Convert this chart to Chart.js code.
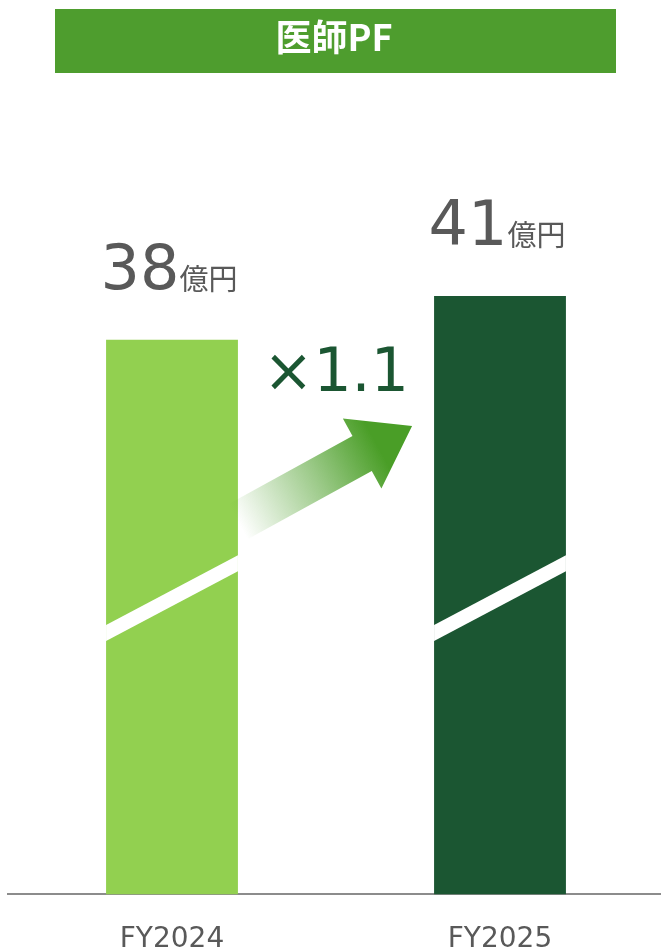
<!DOCTYPE html>
<html>
<head>
<meta charset="utf-8">
<script src="https://cdn.jsdelivr.net/npm/chart.js@4"></script>
<style>
  html, body { margin: 0; padding: 0; background: #fff; overflow: hidden; }
  #wrap { width: 661px; height: 949px; overflow: hidden; }
</style>
</head>
<body>
<div id="wrap"><canvas id="pf__canvas" width="664" height="978"></canvas></div>
<script>
const titleText = "医師PF";
const categories = ["FY2024", "FY2025"];
const revenue = [38, 41];
const unitLabel = "億円";
const growthLabel = "×1.1";
const barColors = ["#92D050", "#1B5632"];

const LATIN_FONT = "'DejaVu Sans', 'Noto Sans CJK JP', sans-serif";
const CJK_FONT = "'Noto Sans CJK JP', 'DejaVu Sans', sans-serif";

// banner, value labels, break stripes, arrow
const decorPlugin = {
  id: "decor",
  afterDatasetsDraw(chart) {
    const ctx = chart.ctx;
    const bars = chart.getDatasetMeta(0).data;

    // white break stripe across each bar
    bars.forEach((bar) => {
      const left = bar.x - bar.width / 2;
      const right = bar.x + bar.width / 2;
      const mid = chart.scales.y.getPixelForValue(20.3);
      const slope = 0.53;
      const half = (bar.width / 2) * slope;
      ctx.save();
      ctx.fillStyle = "#ffffff";
      ctx.beginPath();
      ctx.moveTo(left, mid + half - 8);
      ctx.lineTo(right, mid - half - 8);
      ctx.lineTo(right, mid - half + 8);
      ctx.lineTo(left, mid + half + 8);
      ctx.closePath();
      ctx.fill();
      ctx.restore();
    });

    // value labels
    bars.forEach((bar, i) => {
      const num = String(revenue[i]);
      ctx.save();
      ctx.fillStyle = "#595959";
      ctx.textBaseline = "alphabetic";
      ctx.font = "62px " + LATIN_FONT;
      const numW = ctx.measureText(num).width;
      ctx.font = "29px " + CJK_FONT;
      const unitW = ctx.measureText(unitLabel).width;
      const start = bar.x - (numW + unitW) / 2 - 3;
      const baseY = bar.y - 51;
      ctx.font = "62px " + LATIN_FONT;
      ctx.fillText(num, start, baseY);
      ctx.font = "29px " + CJK_FONT;
      ctx.fillText(unitLabel, start + numW, baseY + 1);
      ctx.restore();
    });

    // growth arrow
    const b1 = bars[0];
    const b2 = bars[1];
    const tail = { x: b1.x + b1.width / 2, y: b1.y + 182 };
    const tip = { x: b2.x - b2.width / 2 - 22, y: b2.y + 130 };
    const len = Math.hypot(tip.x - tail.x, tip.y - tail.y);
    const ang = Math.atan2(tip.y - tail.y, tip.x - tail.x);
    ctx.save();
    ctx.translate(tail.x, tail.y);
    ctx.rotate(ang);
    const grad = ctx.createLinearGradient(0, 0, len, 0);
    grad.addColorStop(0, "rgba(74,158,39,0)");
    grad.addColorStop(0.45, "rgba(74,158,39,0.55)");
    grad.addColorStop(0.8, "rgba(74,158,39,1)");
    grad.addColorStop(1, "rgba(74,158,39,1)");
    ctx.fillStyle = grad;
    const headLen = 57;
    const headHalf = 40;
    const shaftHalf = 20;
    ctx.beginPath();
    ctx.moveTo(0, -shaftHalf);
    ctx.lineTo(len - headLen, -shaftHalf);
    ctx.lineTo(len - headLen, -headHalf);
    ctx.lineTo(len, 0);
    ctx.lineTo(len - headLen, headHalf);
    ctx.lineTo(len - headLen, shaftHalf);
    ctx.lineTo(0, shaftHalf);
    ctx.closePath();
    ctx.fill();
    ctx.restore();

    // growth multiplier text
    ctx.save();
    ctx.fillStyle = "#1B5632";
    ctx.font = "60px " + LATIN_FONT;
    ctx.textAlign = "center";
    ctx.textBaseline = "alphabetic";
    ctx.fillText(growthLabel, (b1.x + b2.x) / 2, b2.y + 95);
    ctx.restore();
  },
  afterDraw(chart) {
    const ctx = chart.ctx;
    ctx.save();
    ctx.fillStyle = "#4E9D2E";
    ctx.fillRect(55, 9, 561, 64);
    ctx.fillStyle = "#ffffff";
    ctx.font = "bold 36px " + CJK_FONT;
    ctx.textAlign = "center";
    ctx.textBaseline = "middle";
    ctx.fillText(titleText, 334, 37);
    ctx.restore();
  },
};

function makeChart() {
  const CANVAS_CTX = document.getElementById("pf__canvas").getContext("2d");
  return new Chart(CANVAS_CTX, {
    type: "bar",
    data: {
      labels: categories,
      datasets: [
        {
          data: revenue,
          backgroundColor: barColors,
          borderWidth: 0,
          categoryPercentage: 1,
          barPercentage: 0.402,
        },
      ],
    },
    options: {
      responsive: false,
      animation: false,
      layout: { padding: { top: 26, left: 8, right: 0, bottom: 0 } },
      plugins: {
        legend: { display: false },
        tooltip: { enabled: false },
      },
      scales: {
        x: {
          grid: { display: false },
          border: { color: "#8C8C8C", width: 2 },
          ticks: {
            color: "#595959",
            padding: 21,
            font: { size: 28, family: LATIN_FONT },
          },
        },
        y: {
          display: false,
          min: 0,
          max: 59.5,
        },
      },
    },
    plugins: [decorPlugin],
  });
}

makeChart();
</script>
</body>
</html>
